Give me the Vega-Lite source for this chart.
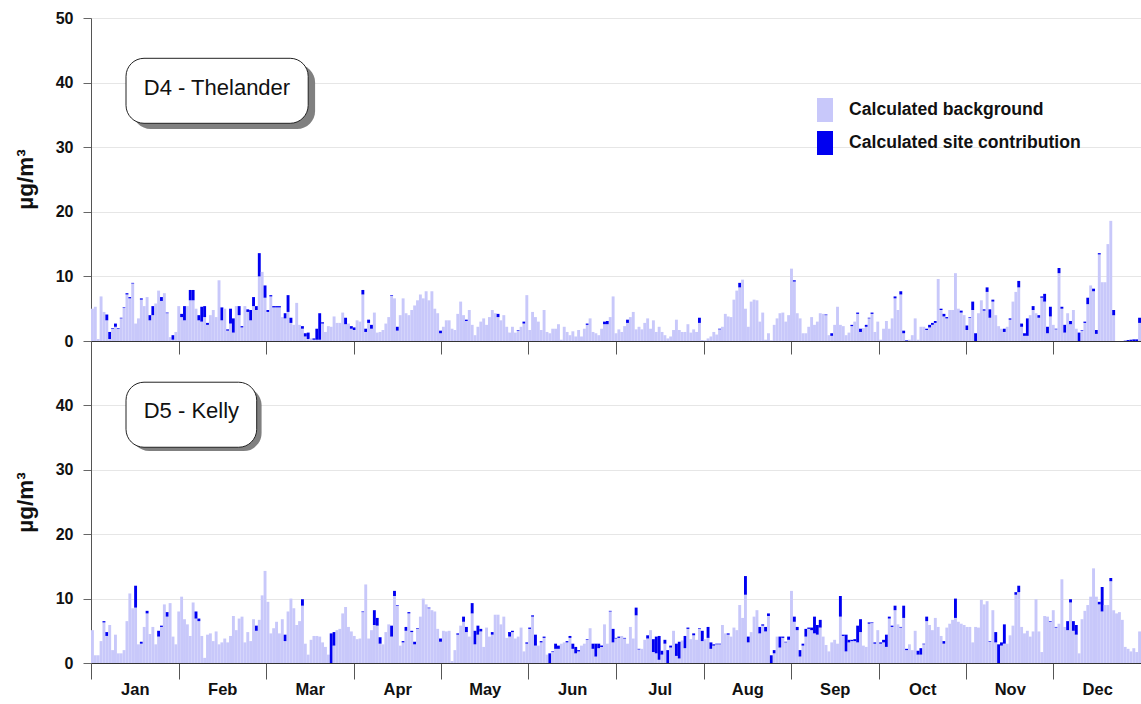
{
"$schema":"https://vega.github.io/schema/vega-lite/v6.json",
"background":"white",
"padding":{"left":14,"top":10,"right":0,"bottom":4},
"spacing":0,
"bounds":"flush",
"config":{"view":{"stroke":null},"font":"Liberation Sans"},
"resolve":{"legend":{"color":"independent"}},
"datasets":{
"t":[{"d":0,"b":5.0,"s":0},{"d":1,"b":5.3,"s":0},{"d":2,"b":0.3,"s":0},{"d":3,"b":6.9,"s":0},{"d":4,"b":4.5,"s":0},{"d":5,"b":3.2,"s":0.9},{"d":6,"b":0.3,"s":1.1},{"d":7,"b":1.9,"s":0.1},{"d":8,"b":2.2,"s":0.5},{"d":9,"b":1.9,"s":0.1},{"d":10,"b":3.5,"s":0.1},{"d":11,"b":5.1,"s":0.1},{"d":12,"b":7.2,"s":0.2},{"d":13,"b":6.6,"s":0.2},{"d":14,"b":8.9,"s":0.1},{"d":15,"b":2.7,"s":0},{"d":16,"b":3.5,"s":0},{"d":17,"b":6.4,"s":0.2},{"d":18,"b":5.4,"s":0},{"d":19,"b":6.8,"s":0},{"d":20,"b":3.2,"s":0.8},{"d":21,"b":4.0,"s":1.4},{"d":22,"b":5.8,"s":0},{"d":23,"b":7.8,"s":0},{"d":24,"b":6.2,"s":0.6},{"d":25,"b":7.4,"s":0},{"d":26,"b":4.3,"s":0.1},{"d":27,"b":0.6,"s":0},{"d":28,"b":0.2,"s":0.7},{"d":29,"b":1.4,"s":0},{"d":30,"b":5.4,"s":0},{"d":31,"b":3.7,"s":0.5},{"d":32,"b":3.2,"s":2.2},{"d":33,"b":5.4,"s":0},{"d":34,"b":6.3,"s":1.6},{"d":35,"b":6.3,"s":1.6},{"d":36,"b":5.0,"s":0},{"d":37,"b":3.2,"s":0.8},{"d":38,"b":3.0,"s":2.3},{"d":39,"b":3.7,"s":1.7},{"d":40,"b":2.5,"s":0.3},{"d":41,"b":4.0,"s":0},{"d":42,"b":4.8,"s":0},{"d":43,"b":3.7,"s":0},{"d":44,"b":9.4,"s":0},{"d":45,"b":3.2,"s":2.0},{"d":46,"b":5.0,"s":0},{"d":47,"b":1.6,"s":0.2},{"d":48,"b":2.7,"s":2.3},{"d":49,"b":1.3,"s":2.2},{"d":50,"b":5.4,"s":0},{"d":51,"b":4.0,"s":1.4},{"d":52,"b":2.1,"s":0.2},{"d":53,"b":5.4,"s":0},{"d":54,"b":4.5,"s":0.4},{"d":55,"b":3.2,"s":1.6},{"d":56,"b":5.4,"s":1.4},{"d":57,"b":4.8,"s":0.6},{"d":58,"b":10.0,"s":3.6},{"d":59,"b":10.7,"s":0},{"d":60,"b":6.7,"s":1.9},{"d":61,"b":4.5,"s":0.3},{"d":62,"b":6.9,"s":0.2},{"d":63,"b":5.2,"s":0.2},{"d":64,"b":5.2,"s":0.2},{"d":65,"b":5.2,"s":0.2},{"d":66,"b":3.7,"s":0},{"d":67,"b":3.5,"s":0.8},{"d":68,"b":4.5,"s":2.6},{"d":69,"b":2.8,"s":0.8},{"d":70,"b":2.5,"s":0},{"d":71,"b":5.9,"s":0},{"d":72,"b":2.5,"s":0},{"d":73,"b":1.9,"s":0.4},{"d":74,"b":0.7,"s":0.5},{"d":75,"b":0.3,"s":1.0},{"d":76,"b":0.4,"s":0},{"d":77,"b":0.2,"s":0.2},{"d":78,"b":0.2,"s":1.7},{"d":79,"b":0.2,"s":4.1},{"d":80,"b":2.7,"s":0.2},{"d":81,"b":1.4,"s":0},{"d":82,"b":2.3,"s":0},{"d":83,"b":2.2,"s":0},{"d":84,"b":3.8,"s":0},{"d":85,"b":2.8,"s":0},{"d":86,"b":2.8,"s":0},{"d":87,"b":4.4,"s":0},{"d":88,"b":2.6,"s":1.0},{"d":89,"b":2.7,"s":0},{"d":90,"b":1.9,"s":0.4},{"d":91,"b":1.7,"s":0.4},{"d":92,"b":3.2,"s":0},{"d":93,"b":3.0,"s":0},{"d":94,"b":7.2,"s":0.7},{"d":95,"b":1.4,"s":0.5},{"d":96,"b":2.8,"s":0.5},{"d":97,"b":1.9,"s":0.6},{"d":98,"b":4.4,"s":0},{"d":99,"b":1.3,"s":0},{"d":100,"b":1.4,"s":0},{"d":101,"b":1.7,"s":0},{"d":102,"b":2.7,"s":0},{"d":103,"b":3.7,"s":0},{"d":104,"b":7.0,"s":0.1},{"d":105,"b":6.6,"s":0},{"d":106,"b":1.6,"s":0.6},{"d":107,"b":4.0,"s":0},{"d":108,"b":6.6,"s":0},{"d":109,"b":4.3,"s":0},{"d":110,"b":4.0,"s":0},{"d":111,"b":4.8,"s":0},{"d":112,"b":5.5,"s":0},{"d":113,"b":6.3,"s":0},{"d":114,"b":7.2,"s":0},{"d":115,"b":6.6,"s":0},{"d":116,"b":7.7,"s":0},{"d":117,"b":6.3,"s":0},{"d":118,"b":7.7,"s":0},{"d":119,"b":5.0,"s":0},{"d":120,"b":4.3,"s":0},{"d":121,"b":1.2,"s":0.4},
{"d":122,"b":2.2,"s":0},{"d":123,"b":3.2,"s":0},{"d":124,"b":3.2,"s":0},{"d":125,"b":1.9,"s":0},{"d":126,"b":1.7,"s":0},{"d":127,"b":4.2,"s":0},{"d":128,"b":6.1,"s":0},{"d":129,"b":4.0,"s":0},{"d":130,"b":3.1,"s":0.2},{"d":131,"b":4.8,"s":0},{"d":132,"b":2.5,"s":0},{"d":133,"b":0.9,"s":0},{"d":134,"b":2.2,"s":0},{"d":135,"b":3.0,"s":0},{"d":136,"b":3.5,"s":0},{"d":137,"b":2.5,"s":0},{"d":138,"b":3.7,"s":0},{"d":139,"b":4.8,"s":0},{"d":140,"b":4.3,"s":0},{"d":141,"b":3.7,"s":0.5},{"d":142,"b":3.2,"s":0},{"d":143,"b":4.0,"s":0},{"d":144,"b":2.2,"s":0},{"d":145,"b":1.3,"s":0},{"d":146,"b":2.2,"s":0},{"d":147,"b":1.3,"s":0},{"d":148,"b":1.6,"s":0.1},{"d":149,"b":2.2,"s":0},{"d":150,"b":2.7,"s":0.3},{"d":151,"b":7.1,"s":0},{"d":152,"b":1.7,"s":0},{"d":153,"b":4.5,"s":0},{"d":154,"b":3.7,"s":0},{"d":155,"b":3.0,"s":0},{"d":156,"b":1.7,"s":0},{"d":157,"b":4.8,"s":0},{"d":158,"b":1.4,"s":0},{"d":159,"b":1.2,"s":0},{"d":160,"b":1.9,"s":0},{"d":161,"b":1.9,"s":0},{"d":162,"b":2.6,"s":0},{"d":163,"b":0.2,"s":0},{"d":164,"b":2.2,"s":0},{"d":165,"b":1.4,"s":0},{"d":166,"b":0.9,"s":0},{"d":167,"b":1.5,"s":0},{"d":168,"b":0.7,"s":0},{"d":169,"b":1.7,"s":0},{"d":170,"b":0.7,"s":0},{"d":171,"b":1.9,"s":0},{"d":172,"b":2.5,"s":0.2},{"d":173,"b":3.5,"s":0},{"d":174,"b":1.4,"s":0},{"d":175,"b":1.2,"s":0},{"d":176,"b":0.9,"s":0},{"d":177,"b":1.9,"s":0},{"d":178,"b":2.6,"s":0.4},{"d":179,"b":2.6,"s":0.5},{"d":180,"b":3.7,"s":0},{"d":181,"b":6.9,"s":0},{"d":182,"b":1.2,"s":0},{"d":183,"b":1.8,"s":0},{"d":184,"b":1.4,"s":0},{"d":185,"b":2.3,"s":0},{"d":186,"b":2.8,"s":0.5},{"d":187,"b":3.7,"s":0},{"d":188,"b":4.5,"s":0},{"d":189,"b":1.8,"s":0},{"d":190,"b":2.2,"s":0},{"d":191,"b":1.8,"s":0},{"d":192,"b":2.8,"s":0},{"d":193,"b":3.5,"s":0},{"d":194,"b":1.9,"s":0},{"d":195,"b":3.2,"s":0},{"d":196,"b":1.4,"s":0},{"d":197,"b":2.2,"s":0},{"d":198,"b":1.4,"s":0},{"d":199,"b":0.9,"s":0},{"d":200,"b":0.4,"s":0},{"d":201,"b":0.7,"s":0},{"d":202,"b":1.7,"s":0},{"d":203,"b":3.3,"s":0},{"d":204,"b":1.7,"s":0},{"d":205,"b":1.4,"s":0},{"d":206,"b":1.4,"s":0},{"d":207,"b":2.6,"s":0},{"d":208,"b":1.3,"s":0},{"d":209,"b":1.8,"s":0},{"d":210,"b":1.4,"s":0},{"d":211,"b":2.8,"s":0.8},{"d":212,"b":0.15,"s":0},{"d":213,"b":0.1,"s":0},{"d":214,"b":0.4,"s":0},{"d":215,"b":0.7,"s":0},{"d":216,"b":1.4,"s":0},{"d":217,"b":1.0,"s":0},{"d":218,"b":1.8,"s":0.1},{"d":219,"b":2.2,"s":0},{"d":220,"b":4.2,"s":0},{"d":221,"b":3.8,"s":0},{"d":222,"b":3.7,"s":0},{"d":223,"b":6.4,"s":0},{"d":224,"b":7.8,"s":0},{"d":225,"b":8.3,"s":0.7},{"d":226,"b":9.5,"s":0},{"d":227,"b":5.0,"s":0},{"d":228,"b":2.2,"s":0},{"d":229,"b":6.1,"s":0},{"d":230,"b":6.4,"s":0},{"d":231,"b":6.3,"s":0},{"d":232,"b":3.0,"s":0},{"d":233,"b":4.4,"s":0},{"d":234,"b":0.2,"s":0},{"d":235,"b":1.2,"s":0},{"d":236,"b":0.1,"s":0},{"d":237,"b":2.5,"s":0},{"d":238,"b":3.5,"s":0},{"d":239,"b":4.3,"s":0},{"d":240,"b":4.4,"s":0},{"d":241,"b":3.0,"s":0},{"d":242,"b":4.0,"s":0},{"d":243,"b":11.2,"s":0},
{"d":244,"b":9.2,"s":0.2},{"d":245,"b":4.3,"s":0},{"d":246,"b":3.5,"s":0},{"d":247,"b":1.2,"s":0},{"d":248,"b":1.2,"s":0},{"d":249,"b":2.2,"s":0},{"d":250,"b":3.7,"s":0},{"d":251,"b":2.5,"s":0},{"d":252,"b":3.0,"s":0},{"d":253,"b":4.3,"s":0},{"d":254,"b":4.2,"s":0},{"d":255,"b":4.0,"s":0.1},{"d":256,"b":0.9,"s":0},{"d":257,"b":0.8,"s":0.4},{"d":258,"b":2.5,"s":0},{"d":259,"b":5.3,"s":0},{"d":260,"b":2.5,"s":0},{"d":261,"b":2.3,"s":0},{"d":262,"b":0.9,"s":0},{"d":263,"b":1.3,"s":0},{"d":264,"b":2.3,"s":0.2},{"d":265,"b":3.0,"s":0},{"d":266,"b":4.2,"s":0.2},{"d":267,"b":1.4,"s":0.5},{"d":268,"b":2.0,"s":0},{"d":269,"b":2.2,"s":0.3},{"d":270,"b":3.5,"s":0.1},{"d":271,"b":4.2,"s":0.2},{"d":272,"b":1.4,"s":0},{"d":273,"b":3.0,"s":0},{"d":274,"b":0.2,"s":0},{"d":275,"b":1.9,"s":0},{"d":276,"b":3.1,"s":0},{"d":277,"b":1.9,"s":0},{"d":278,"b":3.5,"s":0},{"d":279,"b":6.6,"s":0.3},{"d":280,"b":4.8,"s":0},{"d":281,"b":7.2,"s":0.5},{"d":282,"b":1.2,"s":0.4},{"d":283,"b":0,"s":0.1},{"d":284,"b":0.2,"s":0},{"d":285,"b":0.9,"s":0},{"d":286,"b":3.5,"s":0},{"d":287,"b":0.2,"s":0},{"d":288,"b":2.2,"s":0},{"d":289,"b":2.2,"s":0},{"d":290,"b":1.7,"s":0.2},{"d":291,"b":2.1,"s":0.4},{"d":292,"b":2.5,"s":0.3},{"d":293,"b":2.8,"s":0.3},{"d":294,"b":9.6,"s":0},{"d":295,"b":4.8,"s":0.2},{"d":296,"b":3.8,"s":0.4},{"d":297,"b":3.5,"s":0.2},{"d":298,"b":4.8,"s":0},{"d":299,"b":4.8,"s":0},{"d":300,"b":10.5,"s":0},{"d":301,"b":5.0,"s":0},{"d":302,"b":4.4,"s":0.3},{"d":303,"b":4.0,"s":0},{"d":304,"b":1.7,"s":0.7},{"d":305,"b":3.6,"s":0.1},{"d":306,"b":4.8,"s":1.3},{"d":307,"b":0,"s":1.2},{"d":308,"b":4.3,"s":0},{"d":309,"b":6.3,"s":0},{"d":310,"b":4.7,"s":0.2},{"d":311,"b":7.6,"s":0.7},{"d":312,"b":3.6,"s":1.3},{"d":313,"b":6.1,"s":0.3},{"d":314,"b":4.0,"s":0},{"d":315,"b":2.3,"s":0},{"d":316,"b":1.9,"s":0},{"d":317,"b":1.4,"s":0.5},{"d":318,"b":2.2,"s":0},{"d":319,"b":3.3,"s":0.2},{"d":320,"b":6.1,"s":0},{"d":321,"b":7.6,"s":0},{"d":322,"b":8.3,"s":1.0},{"d":323,"b":2.2,"s":0.5},{"d":324,"b":0.8,"s":0.4},{"d":325,"b":0.8,"s":2.7},{"d":326,"b":4.0,"s":0},{"d":327,"b":4.8,"s":0.6},{"d":328,"b":4.3,"s":0},{"d":329,"b":3.6,"s":0.4},{"d":330,"b":6.7,"s":0.2},{"d":331,"b":6.1,"s":1.2},{"d":332,"b":1.2,"s":1.0},{"d":333,"b":3.8,"s":1.5},{"d":334,"b":2.5,"s":0},{"d":335,"b":1.8,"s":0.1},{"d":336,"b":10.5,"s":0.8},{"d":337,"b":5.0,"s":0.3},{"d":338,"b":1.3,"s":1.2},{"d":339,"b":4.3,"s":0},{"d":340,"b":2.6,"s":0.5},{"d":341,"b":4.8,"s":0},{"d":342,"b":1.9,"s":0},{"d":343,"b":0,"s":1.3},{"d":344,"b":1.6,"s":0.1},{"d":345,"b":2.8,"s":0.2},{"d":346,"b":5.7,"s":1.0},{"d":347,"b":8.6,"s":0},{"d":348,"b":7.7,"s":0.4},{"d":349,"b":1.1,"s":0.6},{"d":350,"b":13.4,"s":0.2},{"d":351,"b":9.1,"s":0},{"d":352,"b":9.1,"s":0},{"d":353,"b":15.0,"s":0},{"d":354,"b":18.6,"s":0},{"d":355,"b":4.0,"s":0.8},{"d":356,"b":0,"s":0},{"d":357,"b":0,"s":0},{"d":358,"b":0,"s":0},{"d":359,"b":0,"s":0.05},{"d":360,"b":0,"s":0.15},{"d":361,"b":0,"s":0.2},{"d":362,"b":0,"s":0.25},{"d":363,"b":0,"s":0.25},{"d":364,"b":2.8,"s":0.8}],
"k":[{"d":0,"b":5.1,"s":0},{"d":1,"b":1.2,"s":0},{"d":2,"b":1.2,"s":0},{"d":3,"b":3.4,"s":0},{"d":4,"b":6.3,"s":0.2},{"d":5,"b":4.2,"s":0.6},{"d":6,"b":5.9,"s":0},{"d":7,"b":2.0,"s":0},{"d":8,"b":4.4,"s":0},{"d":9,"b":1.5,"s":0},{"d":10,"b":1.5,"s":0},{"d":11,"b":2.0,"s":0},{"d":12,"b":6.5,"s":0},{"d":13,"b":10.8,"s":0},{"d":14,"b":8.5,"s":0},{"d":15,"b":8.6,"s":3.4},{"d":16,"b":2.9,"s":0},{"d":17,"b":3.0,"s":0.3},{"d":18,"b":5.6,"s":0},{"d":19,"b":7.7,"s":0.4},{"d":20,"b":4.5,"s":0},{"d":21,"b":5.6,"s":0},{"d":22,"b":2.9,"s":0},{"d":23,"b":4.1,"s":0.9},{"d":24,"b":5.6,"s":0.2},{"d":25,"b":9.1,"s":0},{"d":26,"b":7.2,"s":0.7},{"d":27,"b":9.3,"s":0},{"d":28,"b":4.1,"s":0},{"d":29,"b":2.9,"s":0},{"d":30,"b":8.0,"s":0},{"d":31,"b":10.3,"s":0},{"d":32,"b":6.8,"s":0},{"d":33,"b":6.0,"s":0},{"d":34,"b":4.2,"s":0},{"d":35,"b":9.4,"s":0},{"d":36,"b":6.9,"s":1.1},{"d":37,"b":6.5,"s":0.4},{"d":38,"b":4.2,"s":0},{"d":39,"b":0.8,"s":0},{"d":40,"b":4.4,"s":0},{"d":41,"b":4.6,"s":0},{"d":42,"b":3.4,"s":0},{"d":43,"b":4.9,"s":0},{"d":44,"b":2.9,"s":0},{"d":45,"b":3.2,"s":0},{"d":46,"b":3.8,"s":0},{"d":47,"b":3.2,"s":0},{"d":48,"b":4.2,"s":0},{"d":49,"b":7.3,"s":0},{"d":50,"b":5.1,"s":0},{"d":51,"b":6.9,"s":0},{"d":52,"b":7.2,"s":0},{"d":53,"b":3.2,"s":0},{"d":54,"b":4.8,"s":0},{"d":55,"b":3.4,"s":0},{"d":56,"b":6.8,"s":0},{"d":57,"b":5.0,"s":0.8},{"d":58,"b":6.7,"s":0},{"d":59,"b":10.5,"s":0},{"d":60,"b":14.3,"s":0},{"d":61,"b":9.5,"s":0},{"d":62,"b":4.6,"s":0},{"d":63,"b":5.4,"s":0},{"d":64,"b":6.4,"s":0},{"d":65,"b":4.6,"s":0},{"d":66,"b":6.8,"s":0},{"d":67,"b":3.4,"s":1.0},{"d":68,"b":8.0,"s":0},{"d":69,"b":10.0,"s":0},{"d":70,"b":8.5,"s":0},{"d":71,"b":5.9,"s":0},{"d":72,"b":6.5,"s":0},{"d":73,"b":8.9,"s":1.0},{"d":74,"b":3.0,"s":0},{"d":75,"b":1.3,"s":0},{"d":76,"b":3.6,"s":0},{"d":77,"b":4.2,"s":0},{"d":78,"b":4.2,"s":0},{"d":79,"b":4.1,"s":0},{"d":80,"b":3.2,"s":0},{"d":81,"b":2.5,"s":0},{"d":82,"b":1.3,"s":0},{"d":83,"b":0,"s":4.6},{"d":84,"b":2.7,"s":2.1},{"d":85,"b":5.1,"s":0},{"d":86,"b":5.3,"s":0},{"d":87,"b":7.7,"s":0},{"d":88,"b":8.7,"s":0},{"d":89,"b":5.6,"s":0},{"d":90,"b":4.9,"s":0},{"d":91,"b":4.2,"s":0},{"d":92,"b":3.7,"s":0},{"d":93,"b":3.8,"s":0},{"d":94,"b":7.9,"s":0.1},{"d":95,"b":12.2,"s":0},{"d":96,"b":3.8,"s":0},{"d":97,"b":5.1,"s":0},{"d":98,"b":5.9,"s":2.3},{"d":99,"b":5.8,"s":1.2},{"d":100,"b":3.0,"s":1.0},{"d":101,"b":2.9,"s":0},{"d":102,"b":4.8,"s":0},{"d":103,"b":6.0,"s":0},{"d":104,"b":4.1,"s":1.7},{"d":105,"b":10.4,"s":0.8},{"d":106,"b":8.9,"s":0.1},{"d":107,"b":2.7,"s":0},{"d":108,"b":3.2,"s":0.2},{"d":109,"b":5.0,"s":0.6},{"d":110,"b":7.7,"s":0.2},{"d":111,"b":4.8,"s":0.2},{"d":112,"b":2.9,"s":0.4},{"d":113,"b":5.3,"s":0.1},{"d":114,"b":7.2,"s":0},{"d":115,"b":10.0,"s":0},{"d":116,"b":9.1,"s":0},{"d":117,"b":8.5,"s":0.1},{"d":118,"b":8.2,"s":0},{"d":119,"b":8.0,"s":0},{"d":120,"b":5.3,"s":0},{"d":121,"b":3.3,"s":0.5},
{"d":122,"b":5.0,"s":0},{"d":123,"b":4.9,"s":0},{"d":124,"b":5.0,"s":0},{"d":125,"b":0.3,"s":0},{"d":126,"b":2.0,"s":0},{"d":127,"b":4.4,"s":0.2},{"d":128,"b":5.8,"s":0},{"d":129,"b":6.4,"s":0.8},{"d":130,"b":4.8,"s":0.8},{"d":131,"b":4.1,"s":0},{"d":132,"b":7.7,"s":1.6},{"d":133,"b":2.9,"s":2.1},{"d":134,"b":4.4,"s":1.4},{"d":135,"b":4.9,"s":0.4},{"d":136,"b":2.5,"s":0},{"d":137,"b":5.5,"s":0},{"d":138,"b":4.1,"s":0},{"d":139,"b":4.4,"s":0.4},{"d":140,"b":7.5,"s":0},{"d":141,"b":7.5,"s":0},{"d":142,"b":6.0,"s":0},{"d":143,"b":7.2,"s":0},{"d":144,"b":3.9,"s":0},{"d":145,"b":4.1,"s":0.7},{"d":146,"b":4.8,"s":0.2},{"d":147,"b":3.8,"s":0},{"d":148,"b":4.1,"s":0},{"d":149,"b":5.5,"s":0},{"d":150,"b":1.8,"s":0},{"d":151,"b":3.0,"s":0.2},{"d":152,"b":5.3,"s":0.2},{"d":153,"b":7.2,"s":0.2},{"d":154,"b":2.7,"s":1.7},{"d":155,"b":2.7,"s":0},{"d":156,"b":3.2,"s":0.2},{"d":157,"b":3.9,"s":0.2},{"d":158,"b":1.3,"s":0},{"d":159,"b":0,"s":1.5},{"d":160,"b":1.7,"s":0.1},{"d":161,"b":2.2,"s":0.8},{"d":162,"b":2.2,"s":0.5},{"d":163,"b":3.0,"s":0},{"d":164,"b":3.2,"s":0},{"d":165,"b":3.2,"s":0.2},{"d":166,"b":3.9,"s":0.3},{"d":167,"b":2.2,"s":0.8},{"d":168,"b":1.5,"s":1.0},{"d":169,"b":1.8,"s":0.2},{"d":170,"b":2.7,"s":0},{"d":171,"b":3.0,"s":0},{"d":172,"b":3.6,"s":0.1},{"d":173,"b":5.4,"s":0},{"d":174,"b":2.2,"s":0.8},{"d":175,"b":1.0,"s":2.0},{"d":176,"b":2.3,"s":0.7},{"d":177,"b":2.5,"s":0.2},{"d":178,"b":6.0,"s":0},{"d":179,"b":3.0,"s":0},{"d":180,"b":8.0,"s":0.1},{"d":181,"b":3.2,"s":2.1},{"d":182,"b":3.8,"s":0.1},{"d":183,"b":3.9,"s":0.2},{"d":184,"b":4.2,"s":0},{"d":185,"b":3.8,"s":0.1},{"d":186,"b":3.0,"s":0},{"d":187,"b":5.6,"s":0},{"d":188,"b":3.8,"s":0},{"d":189,"b":7.4,"s":1.2},{"d":190,"b":2.1,"s":0.1},{"d":191,"b":2.2,"s":0},{"d":192,"b":3.6,"s":0},{"d":193,"b":3.8,"s":0.5},{"d":194,"b":5.1,"s":0},{"d":195,"b":1.7,"s":2.0},{"d":196,"b":1.5,"s":2.6},{"d":197,"b":0.5,"s":3.7},{"d":198,"b":1.3,"s":0.6},{"d":199,"b":3.0,"s":0.6},{"d":200,"b":0,"s":2.0},{"d":201,"b":2.4,"s":0.3},{"d":202,"b":5.0,"s":0},{"d":203,"b":1.1,"s":1.9},{"d":204,"b":0.7,"s":2.6},{"d":205,"b":3.5,"s":0},{"d":206,"b":2.3,"s":1.9},{"d":207,"b":5.3,"s":0.2},{"d":208,"b":3.7,"s":0},{"d":209,"b":4.3,"s":0.3},{"d":210,"b":3.6,"s":0},{"d":211,"b":5.3,"s":0.1},{"d":212,"b":3.4,"s":1.6},{"d":213,"b":3.7,"s":0},{"d":214,"b":3.9,"s":1.7},{"d":215,"b":2.2,"s":1.0},{"d":216,"b":2.7,"s":0.2},{"d":217,"b":2.9,"s":0.1},{"d":218,"b":2.9,"s":0.1},{"d":219,"b":5.9,"s":0},{"d":220,"b":4.6,"s":0},{"d":221,"b":4.4,"s":0.2},{"d":222,"b":4.1,"s":0},{"d":223,"b":5.5,"s":0},{"d":224,"b":5.1,"s":0},{"d":225,"b":9.0,"s":0},{"d":226,"b":7.0,"s":0},{"d":227,"b":10.6,"s":2.9},{"d":228,"b":3.2,"s":0.9},{"d":229,"b":4.8,"s":0},{"d":230,"b":7.2,"s":0},{"d":231,"b":8.2,"s":0},{"d":232,"b":4.6,"s":1.0},{"d":233,"b":5.8,"s":0.2},{"d":234,"b":4.9,"s":0.7},{"d":235,"b":7.3,"s":0.4},{"d":236,"b":0,"s":1.2},{"d":237,"b":1.5,"s":0.5},{"d":238,"b":4.1,"s":0},{"d":239,"b":2.4,"s":1.7},{"d":240,"b":3.9,"s":0.2},{"d":241,"b":3.2,"s":0.1},{"d":242,"b":3.6,"s":0.5},{"d":243,"b":11.2,"s":0},
{"d":244,"b":6.4,"s":0.8},{"d":245,"b":5.1,"s":0.5},{"d":246,"b":1.0,"s":1.0},{"d":247,"b":2.7,"s":0.3},{"d":248,"b":4.1,"s":1.2},{"d":249,"b":5.3,"s":0.2},{"d":250,"b":5.1,"s":0.4},{"d":251,"b":4.6,"s":2.6},{"d":252,"b":4.4,"s":1.5},{"d":253,"b":5.5,"s":1.2},{"d":254,"b":4.1,"s":0},{"d":255,"b":2.8,"s":0},{"d":256,"b":1.8,"s":0},{"d":257,"b":3.2,"s":0},{"d":258,"b":3.6,"s":0},{"d":259,"b":3.0,"s":0},{"d":260,"b":7.2,"s":3.2},{"d":261,"b":4.2,"s":0.2},{"d":262,"b":1.8,"s":2.6},{"d":263,"b":3.2,"s":0.4},{"d":264,"b":3.4,"s":0.2},{"d":265,"b":3.4,"s":0.3},{"d":266,"b":3.2,"s":2.6},{"d":267,"b":4.8,"s":2.0},{"d":268,"b":2.7,"s":0},{"d":269,"b":2.5,"s":0},{"d":270,"b":6.1,"s":0.2},{"d":271,"b":6.2,"s":0.1},{"d":272,"b":3.0,"s":0.2},{"d":273,"b":5.1,"s":0},{"d":274,"b":3.0,"s":0.2},{"d":275,"b":3.2,"s":0.4},{"d":276,"b":2.5,"s":1.9},{"d":277,"b":6.9,"s":0.3},{"d":278,"b":5.6,"s":0.2},{"d":279,"b":8.2,"s":0.7},{"d":280,"b":6.0,"s":0},{"d":281,"b":5.5,"s":0.1},{"d":282,"b":7.0,"s":1.9},{"d":283,"b":2.0,"s":0.2},{"d":284,"b":2.9,"s":0},{"d":285,"b":2.0,"s":0},{"d":286,"b":5.0,"s":0},{"d":287,"b":1.3,"s":0.6},{"d":288,"b":1.3,"s":1.0},{"d":289,"b":2.9,"s":0.1},{"d":290,"b":6.5,"s":0.7},{"d":291,"b":5.9,"s":0},{"d":292,"b":5.1,"s":0},{"d":293,"b":7.0,"s":0},{"d":294,"b":5.6,"s":0},{"d":295,"b":4.2,"s":0},{"d":296,"b":3.0,"s":0.4},{"d":297,"b":5.5,"s":0},{"d":298,"b":6.1,"s":0},{"d":299,"b":6.7,"s":0},{"d":300,"b":7.0,"s":3.0},{"d":301,"b":6.4,"s":0},{"d":302,"b":6.1,"s":0},{"d":303,"b":5.9,"s":0},{"d":304,"b":5.6,"s":0},{"d":305,"b":5.6,"s":0},{"d":306,"b":3.2,"s":0},{"d":307,"b":5.6,"s":0},{"d":308,"b":5.5,"s":0},{"d":309,"b":9.8,"s":0},{"d":310,"b":9.1,"s":0},{"d":311,"b":9.6,"s":0},{"d":312,"b":3.3,"s":0.1},{"d":313,"b":8.2,"s":0},{"d":314,"b":3.2,"s":1.6},{"d":315,"b":0,"s":2.9},{"d":316,"b":2.7,"s":0.5},{"d":317,"b":3.0,"s":3.0},{"d":318,"b":3.0,"s":0},{"d":319,"b":4.3,"s":0},{"d":320,"b":5.8,"s":0},{"d":321,"b":10.6,"s":0.4},{"d":322,"b":11.0,"s":1.0},{"d":323,"b":5.6,"s":0},{"d":324,"b":4.6,"s":0},{"d":325,"b":5.0,"s":0},{"d":326,"b":4.1,"s":0},{"d":327,"b":4.9,"s":0},{"d":328,"b":9.9,"s":0},{"d":329,"b":4.9,"s":0},{"d":330,"b":1.7,"s":0},{"d":331,"b":7.3,"s":0},{"d":332,"b":7.2,"s":0},{"d":333,"b":6.4,"s":0.1},{"d":334,"b":8.2,"s":0},{"d":335,"b":5.5,"s":0.1},{"d":336,"b":6.1,"s":0},{"d":337,"b":13.0,"s":0},{"d":338,"b":5.6,"s":0},{"d":339,"b":5.1,"s":1.4},{"d":340,"b":9.4,"s":0.5},{"d":341,"b":5.0,"s":1.5},{"d":342,"b":4.4,"s":1.5},{"d":343,"b":1.5,"s":0},{"d":344,"b":6.8,"s":0},{"d":345,"b":8.1,"s":0},{"d":346,"b":9.0,"s":0},{"d":347,"b":10.3,"s":0},{"d":348,"b":14.7,"s":0},{"d":349,"b":10.3,"s":0},{"d":350,"b":9.1,"s":0.4},{"d":351,"b":8.0,"s":3.8},{"d":352,"b":9.0,"s":0},{"d":353,"b":9.0,"s":0},{"d":354,"b":12.7,"s":0.5},{"d":355,"b":8.2,"s":0},{"d":356,"b":7.7,"s":0},{"d":357,"b":7.9,"s":0},{"d":358,"b":6.7,"s":0},{"d":359,"b":2.5,"s":0},{"d":360,"b":2.2,"s":0},{"d":361,"b":1.8,"s":0},{"d":362,"b":2.3,"s":0},{"d":363,"b":1.7,"s":0},{"d":364,"b":4.9,"s":0}]
},
"vconcat":[
{
"width":1050,"height":323,
"layer":[
{"data":{"name":"t"},
"transform":[{"fold":["b","s"],"as":["c","v"]}],
"mark":{"type":"bar","width":2.9,"strokeWidth":0},
"encoding":{
"x":{"field":"d","type":"quantitative","scale":{"domain":[-0.5,364.5],"nice":false,"zero":false,"padding":0},
"axis":{"title":null,"values":[-0.5,29.9167,60.3333,90.75,121.1667,151.5833,182,212.4167,242.8333,273.25,303.6667,334.0833,364.5],"labels":false,"tickSize":13,"grid":false,"domainColor":"#333","tickColor":"#555","domainWidth":1}},
"y":{"field":"v","type":"quantitative","stack":"zero","scale":{"domain":[0,50],"nice":false},
"axis":{"title":"µg/m³","values":[0,10,20,30,40,50],"titleFontSize":22.5,"titleFontWeight":"bold","titleColor":"#111","titleX":-59,"titleY":161,"titleAngle":-90,"titleBaseline":"alphabetic","labelFontSize":16,"labelFontWeight":"bold","labelColor":"#111","labelPadding":10,"tickSize":8,"tickColor":"#666","domainColor":"#555","gridColor":"#e6e6e6","gridWidth":1}},
"color":{"field":"c","type":"nominal","scale":{"domain":["b","s"],"range":["#c8c8fa","#0000f0"]},
"legend":{"orient":"none","legendX":722,"legendY":80,"title":null,"padding":0,"labelLimit":400,"labelExpr":"datum.value == 'b' ? 'Calculated background' : 'Calculated site contribution'","symbolType":"M-0.667,-1H0.667V1H-0.667Z","symbolSize":576,"symbolStrokeWidth":0,"labelFontSize":17.6,"labelFontWeight":"bold","labelColor":"#111","labelOffset":12,"rowPadding":9}},
"order":{"field":"c"}}},
{"data":{"values":[{}]},
"mark":{"type":"rect","fill":"#808080","cornerRadius":18},
"encoding":{"x":{"datum":14.0},"x2":{"datum":77.4},"y":{"datum":32.8},"y2":{"datum":42.8}}},
{"data":{"values":[{}]},
"mark":{"type":"rect","fill":"white","stroke":"#222","strokeWidth":1,"cornerRadius":18},
"encoding":{"x":{"datum":11.67},"x2":{"datum":75.0},"y":{"datum":33.7},"y2":{"datum":43.76}}},
{"data":{"values":[{}]},
"mark":{"type":"text","fontSize":22,"font":"Liberation Sans","color":"#111","baseline":"middle","align":"center"},
"encoding":{"x":{"datum":43.3},"y":{"datum":39.2},"text":{"value":"D4 - Thelander"}}}
]
},
{
"width":1050,"height":322,
"layer":[
{"data":{"name":"k"},
"transform":[{"fold":["b","s"],"as":["c","v"]}],
"mark":{"type":"bar","width":2.9,"strokeWidth":0},
"encoding":{
"x":{"field":"d","type":"quantitative","scale":{"domain":[-0.5,364.5],"nice":false,"zero":false,"padding":0},
"axis":{"title":null,"values":[-0.5,29.9167,60.3333,90.75,121.1667,151.5833,182,212.4167,242.8333,273.25,303.6667,334.0833,364.5],"labelExpr":"['Jan','Feb','Mar','Apr','May','Jun','Jul','Aug','Sep','Oct','Nov','Dec',''][round((datum.value+0.5)/30.41667)]","labelOffset":43.75,"labelFontSize":16.5,"labelFontWeight":"bold","labelColor":"#111","labelPadding":2,"labelFlush":false,"labelOverlap":false,"labelBound":false,"tickSize":16,"grid":false,"domainColor":"#333","tickColor":"#555"}},
"y":{"field":"v","type":"quantitative","stack":"zero","scale":{"domain":[0,50],"nice":false},
"axis":{"title":"µg/m³","values":[0,10,20,30,40],"titleFontSize":22.5,"titleFontWeight":"bold","titleColor":"#111","titleX":-59,"titleY":161,"titleAngle":-90,"titleBaseline":"alphabetic","labelFontSize":16,"labelFontWeight":"bold","labelColor":"#111","labelPadding":10,"tickSize":8,"tickColor":"#666","domainColor":"#555","gridColor":"#e6e6e6","gridWidth":1}},
"color":{"field":"c","type":"nominal","scale":{"domain":["b","s"],"range":["#c8c8fa","#0000f0"]},"legend":null},
"order":{"field":"c"}}},
{"data":{"values":[{}]},
"mark":{"type":"rect","fill":"#808080","cornerRadius":18},
"encoding":{"x":{"datum":13.5},"x2":{"datum":58.8},"y":{"datum":32.9},"y2":{"datum":42.8}}},
{"data":{"values":[{}]},
"mark":{"type":"rect","fill":"white","stroke":"#222","strokeWidth":1,"cornerRadius":18},
"encoding":{"x":{"datum":11.67},"x2":{"datum":57.1},"y":{"datum":33.5},"y2":{"datum":43.6}}},
{"data":{"values":[{}]},
"mark":{"type":"text","fontSize":22,"font":"Liberation Sans","color":"#111","baseline":"middle","align":"center"},
"encoding":{"x":{"datum":34.4},"y":{"datum":39.2},"text":{"value":"D5 - Kelly"}}}
]
}
]
}
